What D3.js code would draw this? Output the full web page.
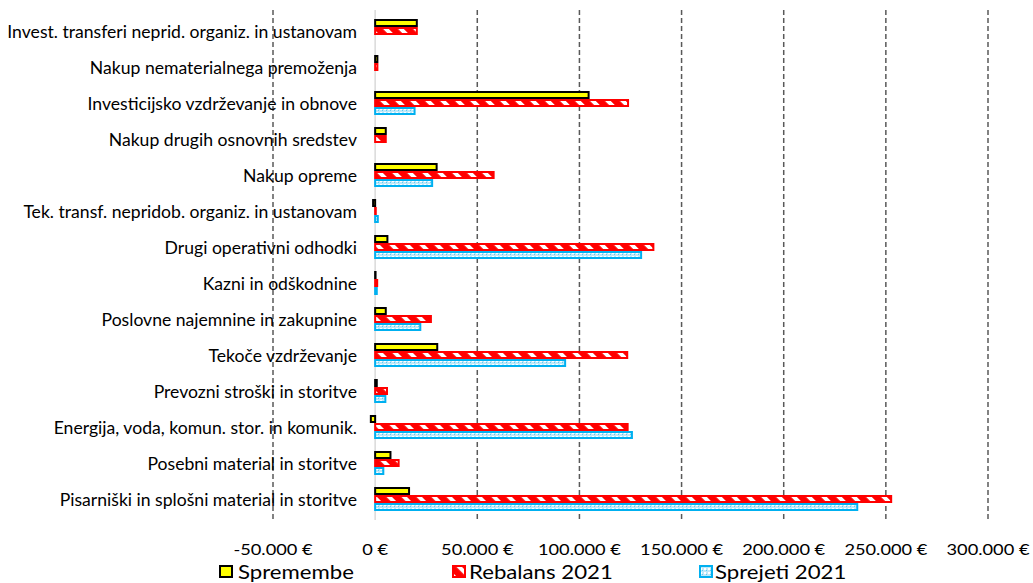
<!DOCTYPE html>
<html><head><meta charset="utf-8">
<script src="https://cdn.jsdelivr.net/npm/d3@7"></script>
<style>
html,body{margin:0;padding:0;background:#fff;}
svg{display:block;font-family:Lato,"Open Sans",sans-serif;}
</style></head>
<body><svg id="chart" width="1033" height="583"></svg>
<script>
const categories = [
  "Invest. transferi neprid. organiz. in ustanovam",
  "Nakup nematerialnega premoženja",
  "Investicijsko vzdrževanje in obnove",
  "Nakup drugih osnovnih sredstev",
  "Nakup opreme",
  "Tek. transf. nepridob. organiz. in ustanovam",
  "Drugi operativni odhodki",
  "Kazni in odškodnine",
  "Poslovne najemnine in zakupnine",
  "Tekoče vzdrževanje",
  "Prevozni stroški in storitve",
  "Energija, voda, komun. stor. in komunik.",
  "Posebni material in storitve",
  "Pisarniški in splošni material in storitve"
];
const spremembe = [20400, 1100, 104500, 5200, 30100, -1000, 6000, 200, 5200, 30400, 800, -2100, 7500, 16600];
const rebalans  = [20400, 1100, 123800, 5200, 58000, 300, 136200, 1000, 27300, 123400, 5800, 123600, 11500, 252600];
const sprejeti  = [0, 0, 19300, 0, 27900, 1300, 130200, 800, 22100, 93000, 5000, 125700, 4000, 236000];
const tickValues = [-50000, 0, 50000, 100000, 150000, 200000, 250000, 300000];
const seriesNames = ["Spremembe", "Rebalans 2021", "Sprejeti 2021"];

const svg = d3.select("#chart");
const defs = svg.append("defs");

// red diagonal stripes
const pr = defs.append("pattern").attr("id","redStripe").attr("patternUnits","userSpaceOnUse")
  .attr("width",10.6).attr("height",10.6).attr("patternTransform","rotate(45)");
pr.append("rect").attr("width",10.6).attr("height",10.6).attr("fill","#ff0000");
pr.append("rect").attr("y",0).attr("width",10.6).attr("height",4.0).attr("fill","#ffffff");

// blue dotted pattern
const pb = defs.append("pattern").attr("id","blueDot").attr("patternUnits","userSpaceOnUse")
  .attr("width",4).attr("height",4);
pb.append("rect").attr("width",4).attr("height",4).attr("fill","#bfe8f8");
pb.append("rect").attr("x",0).attr("y",0).attr("width",2).attr("height",2).attr("fill","#ffffff");
pb.append("rect").attr("x",2).attr("y",2).attr("width",1).attr("height",1).attr("fill","#5ccaf3");

const x = d3.scaleLinear().domain([-50000, 300000]).range([273, 988]);
const y = d3.scaleBand().domain(categories).range([13, 517]).paddingInner(1/3).paddingOuter(1/6);

const loc = d3.formatLocale({decimal:",", thousands:".", grouping:[3], currency:["","\u00a0€"], minus:"-"});
const fmt = v => loc.format(",.0f")(v) + " €";

// gridlines
svg.append("g").selectAll("line").data(tickValues.filter(v=>v!==0)).join("line")
  .attr("x1", d=>x(d)).attr("x2", d=>x(d)).attr("y1", 10).attr("y2", 520)
  .attr("stroke","#595959").attr("stroke-width",1.5).attr("stroke-dasharray","5,3");

// category labels
svg.append("g").selectAll("text").data(categories).join("text")
  .attr("x", 357).attr("y", d=>y(d)+y.bandwidth()/2 + 0.5)
  .attr("text-anchor","end").attr("dominant-baseline","central")
  .attr("font-size","17.6px").attr("fill","#000").text(d=>d);

// zero axis
svg.append("line").attr("x1",x(0)).attr("x2",x(0)).attr("y1",10).attr("y2",520)
  .attr("stroke","#d9d9d9").attr("stroke-width",1.5);

const bh = y.bandwidth()/3;
const series = [
  {vals: spremembe, fill:"#ffff00", stroke:"#000000"},
  {vals: rebalans, fill:"url(#redStripe)", stroke:"#ff0000"},
  {vals: sprejeti, fill:"url(#blueDot)", stroke:"#00b0f0"}
];
series.forEach((s, si) => {
  svg.append("g").selectAll("rect")
    .data(categories.map((c,i)=>({c, v:s.vals[i]})).filter(d=>d.v!==0))
    .join("rect")
    .attr("x", d=>Math.min(x(0), x(d.v)))
    .attr("width", d=>Math.abs(x(d.v)-x(0)))
    .attr("y", d=>y(d.c) + si*bh + 1)
    .attr("height", bh-2)
    .attr("fill", s.fill).attr("stroke", s.stroke).attr("stroke-width",2);
});

// tick labels (horizontally stretched like the reference)
svg.append("g").selectAll("text").data(tickValues).join("text")
  .attr("transform", d=>`translate(${x(d)},549) scale(1.14,1)`)
  .attr("text-anchor","middle").attr("dominant-baseline","central")
  .attr("font-size","16px").attr("fill","#000").text(d=>fmt(d));

// legend
const legendSq = [220, 453, 700];
const legendTx = [238, 469, 715];
const lg = svg.append("g");
series.forEach((s, i) => {
  lg.append("rect").attr("x", legendSq[i]).attr("y", 566).attr("width", 12).attr("height", 11)
    .attr("fill", s.fill).attr("stroke", s.stroke).attr("stroke-width", 2);
  lg.append("text").attr("transform", `translate(${legendTx[i]},578.5) scale(1.2,1)`)
    .attr("font-size","18.5px").attr("fill","#000").text(seriesNames[i]);
});
</script></body></html>
